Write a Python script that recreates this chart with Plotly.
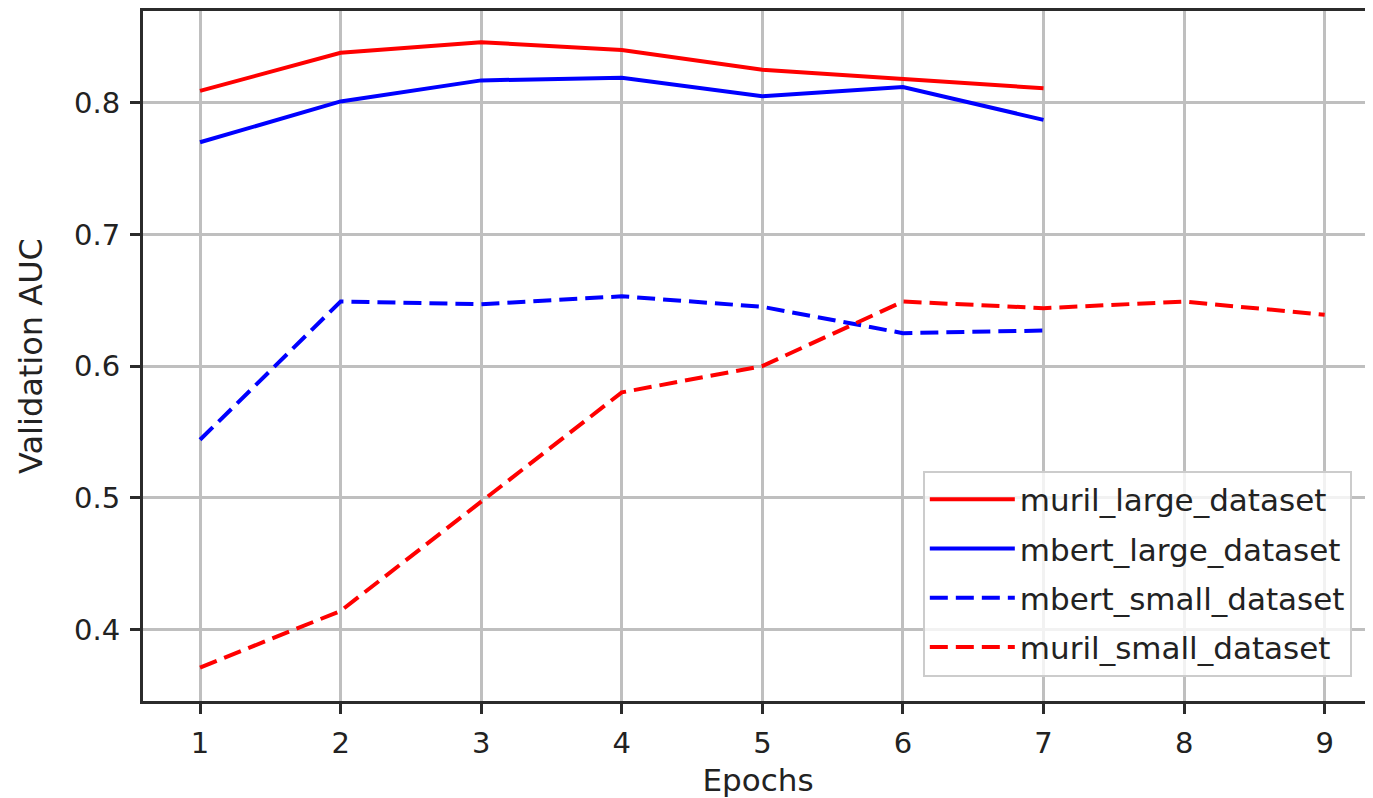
import plotly.graph_objects as go

epochs_large = [1, 2, 3, 4, 5, 6, 7]
muril_large = [0.809, 0.838, 0.846, 0.840, 0.825, 0.818, 0.811]
mbert_large = [0.770, 0.801, 0.817, 0.819, 0.805, 0.812, 0.787]
epochs_mbert_small = [1, 2, 3, 4, 5, 6, 7]
mbert_small = [0.544, 0.649, 0.647, 0.653, 0.645, 0.625, 0.627]
epochs_muril_small = [1, 2, 3, 4, 5, 6, 7, 8, 9]
muril_small = [0.371, 0.414, 0.497, 0.580, 0.600, 0.649, 0.644, 0.649, 0.639]

x_ticks = [1, 2, 3, 4, 5, 6, 7, 8, 9]
y_ticks = [0.4, 0.5, 0.6, 0.7, 0.8]

FONT = "DejaVu Sans"
TXT = "#222222"
DASH = "18px,8px"

fig = go.Figure()
fig.add_trace(go.Scatter(x=epochs_large, y=muril_large, mode="lines", name="muril_large_dataset",
                         legendgroup="a", line=dict(color="#ff0000", width=4)))
fig.add_trace(go.Scatter(x=epochs_large, y=mbert_large, mode="lines", name="mbert_large_dataset",
                         legendgroup="b", line=dict(color="#0000ff", width=4)))
fig.add_trace(go.Scatter(x=epochs_mbert_small, y=mbert_small, mode="lines", name="mbert_small_dataset",
                         legendgroup="c", line=dict(color="#0000ff", width=4, dash=DASH)))
fig.add_trace(go.Scatter(x=epochs_muril_small, y=muril_small, mode="lines", name="muril_small_dataset",
                         legendgroup="d", line=dict(color="#ff0000", width=4, dash=DASH)))

axis_common = dict(
    showline=True, linecolor="#2b2b2b", linewidth=3,
    showgrid=True, gridcolor="#bfbfbf", gridwidth=2.5,
    ticks="outside", ticklen=10, tickwidth=2.5, tickcolor="#2b2b2b",
    tickfont=dict(family=FONT, size=29, color=TXT),
    zeroline=False,
)

fig.update_xaxes(range=[0.5944, 9.3437], tickvals=x_ticks, ticktext=[str(v) for v in x_ticks],
                 ticklabelstandoff=4, mirror=True,
                 title=dict(text="Epochs", font=dict(family=FONT, size=31, color=TXT), standoff=12),
                 **axis_common)
fig.update_yaxes(range=[0.3456, 0.8697], tickvals=y_ticks, ticktext=[f"{v:.1f}" for v in y_ticks],
                 ticklabelstandoff=4, mirror=False,
                 title=dict(text="Validation AUC", font=dict(family=FONT, size=32, color=TXT), standoff=22),
                 **axis_common)

fig.update_layout(
    width=1365, height=790,
    margin=dict(l=135, r=0, t=1, b=97),
    plot_bgcolor="white", paper_bgcolor="white",
    font=dict(family=FONT, size=29, color=TXT),
    legend=dict(
        x=0.634, y=0.334, xanchor="left", yanchor="top",
        bgcolor="rgba(255,255,255,0.8)", bordercolor="#cccccc", borderwidth=2,
        font=dict(family=FONT, size=31, color=TXT),
        tracegroupgap=6, itemwidth=85,
    ),
    showlegend=True,
)

fig.write_html("out.html")
